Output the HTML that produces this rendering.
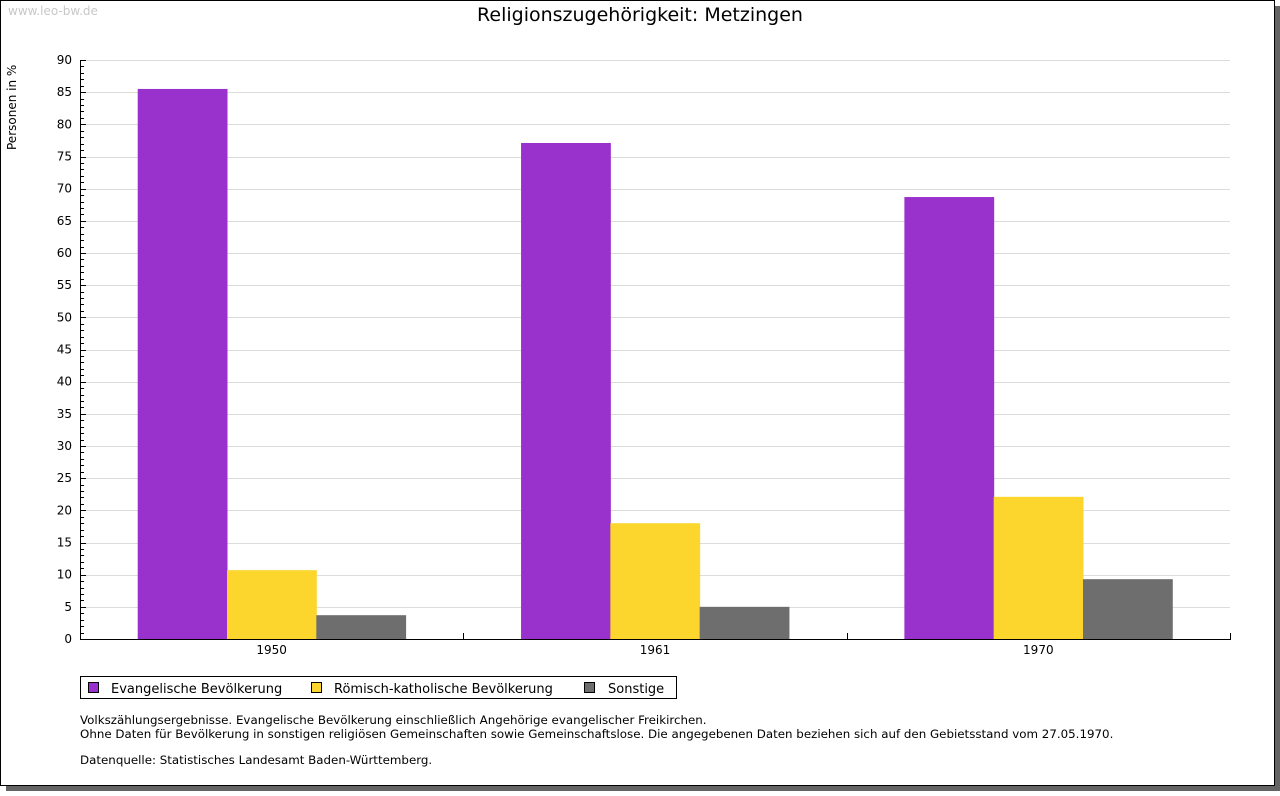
<!DOCTYPE html>
<html><head><meta charset="utf-8"><style>
body{margin:0;width:1280px;height:791px;overflow:hidden;background:#fff;font-family:"Liberation Sans","DejaVu Sans",sans-serif}
</style></head><body>
<svg id="chart" width="1280" height="791" xmlns="http://www.w3.org/2000/svg" font-family="DejaVu Sans, Liberation Sans, sans-serif">
<rect x="6" y="6" width="1274" height="785" fill="#646464"/>
<rect x="0.5" y="0.5" width="1274" height="785" fill="#fff" stroke="#000"/>
<text x="8" y="15" font-size="12" fill="#c8c8c8">www.leo-bw.de</text>
<text x="640" y="21" font-size="19" text-anchor="middle" fill="#000">Religionszugehörigkeit: Metzingen</text>
<text transform="translate(16,150) rotate(-90)" font-size="12" fill="#000">Personen in %</text>
<g id="grid"></g><g id="bars"></g><g id="axes"></g>
<g>
<rect x="80.5" y="676.5" width="596" height="22" fill="#fff" stroke="#000"/>
<rect x="88.5" y="682.5" width="10" height="10" fill="#9932cc" stroke="#000"/>
<text x="111" y="693" font-size="13">Evangelische Bevölkerung</text>
<rect x="311.5" y="682.5" width="10" height="10" fill="#fcd62c" stroke="#000"/>
<text x="334" y="693" font-size="13">Römisch-katholische Bevölkerung</text>
<rect x="584.5" y="682.5" width="10" height="10" fill="#6e6e6e" stroke="#000"/>
<text x="608" y="693" font-size="13">Sonstige</text>
</g>
<g font-size="11.85" fill="#000">
<text x="80" y="724">Volkszählungsergebnisse. Evangelische Bevölkerung einschließlich Angehörige evangelischer Freikirchen.</text>
<text x="80" y="738">Ohne Daten für Bevölkerung in sonstigen religiösen Gemeinschaften sowie Gemeinschaftslose. Die angegebenen Daten beziehen sich auf den Gebietsstand vom 27.05.1970.</text>
<text x="80" y="764">Datenquelle: Statistisches Landesamt Baden-Württemberg.</text>
</g>
</svg>
<script>
const categories = ["1950","1961","1970"];
const evangelisch = [85.5, 77.1, 68.7];
const katholisch = [10.7, 18.0, 22.1];
const sonstige = [3.7, 5.0, 9.3];
const yTicks = [0,5,10,15,20,25,30,35,40,45,50,55,60,65,70,75,80,85,90];
const seriesNames = ["evangelisch","katholisch","sonstige"];
const seriesColors = ["#9932cc","#fcd62c","#6e6e6e"];

const NS="http://www.w3.org/2000/svg";
const X0=80,X1=1230,Y0=639,Y1=60,YMAX=90;
const y=v=>Y0-(v/YMAX)*(Y0-Y1);
const gw=(X1-X0)/categories.length;
const bw=89.3;
function mk(tag,attrs,parent){const e=document.createElementNS(NS,tag);for(const k in attrs)e.setAttribute(k,attrs[k]);parent.appendChild(e);return e;}
const grid=document.getElementById('grid'),bars=document.getElementById('bars'),axes=document.getElementById('axes');
yTicks.forEach(t=>{
  if(t>0){const l=mk('line',{x1:X0,x2:X1,y1:Math.round(y(t))+0.5,y2:Math.round(y(t))+0.5,stroke:'#dcdcdc'},grid);
  
  }
  const tx=mk('text',{x:72,y:y(t)+4,'font-size':12,'text-anchor':'end'},axes);tx.textContent=t;
  
  
});
for(let v=0;v<=YMAX;v++){
  const yy=Math.round(y(v))+0.5;
  mk('line',{x1:X0,x2:X0+(v%5==0?6:4),y1:yy,y2:yy,stroke:'#000'},axes);
}
const data=[evangelisch,katholisch,sonstige];
categories.forEach((c,i)=>{
  const cx=X0+gw*(i+0.5);
  data.forEach((s,j)=>{
    const x=cx-1.5*bw+j*bw;
    const r=mk('rect',{x:x,y:y(s[i]),width:bw+0.5,height:Y0-y(s[i]),fill:seriesColors[j]},bars);
    
    
  });
  const t=mk('text',{x:cx,y:654,'font-size':12,'text-anchor':'middle'},axes);t.textContent=c;
  
  
  const tx=Math.round(X0+gw*(i+1))+0.5;
  mk('line',{x1:tx,x2:tx,y1:Y0-6,y2:Y0,stroke:'#000'},axes);
});
const ya=mk('line',{x1:X0+0.5,x2:X0+0.5,y1:Y1,y2:Y0+0.5,stroke:'#000'},axes);


const xa=mk('line',{x1:X0,x2:X1+1,y1:Y0+0.5,y2:Y0+0.5,stroke:'#000'},axes);


</script>
</body></html>
